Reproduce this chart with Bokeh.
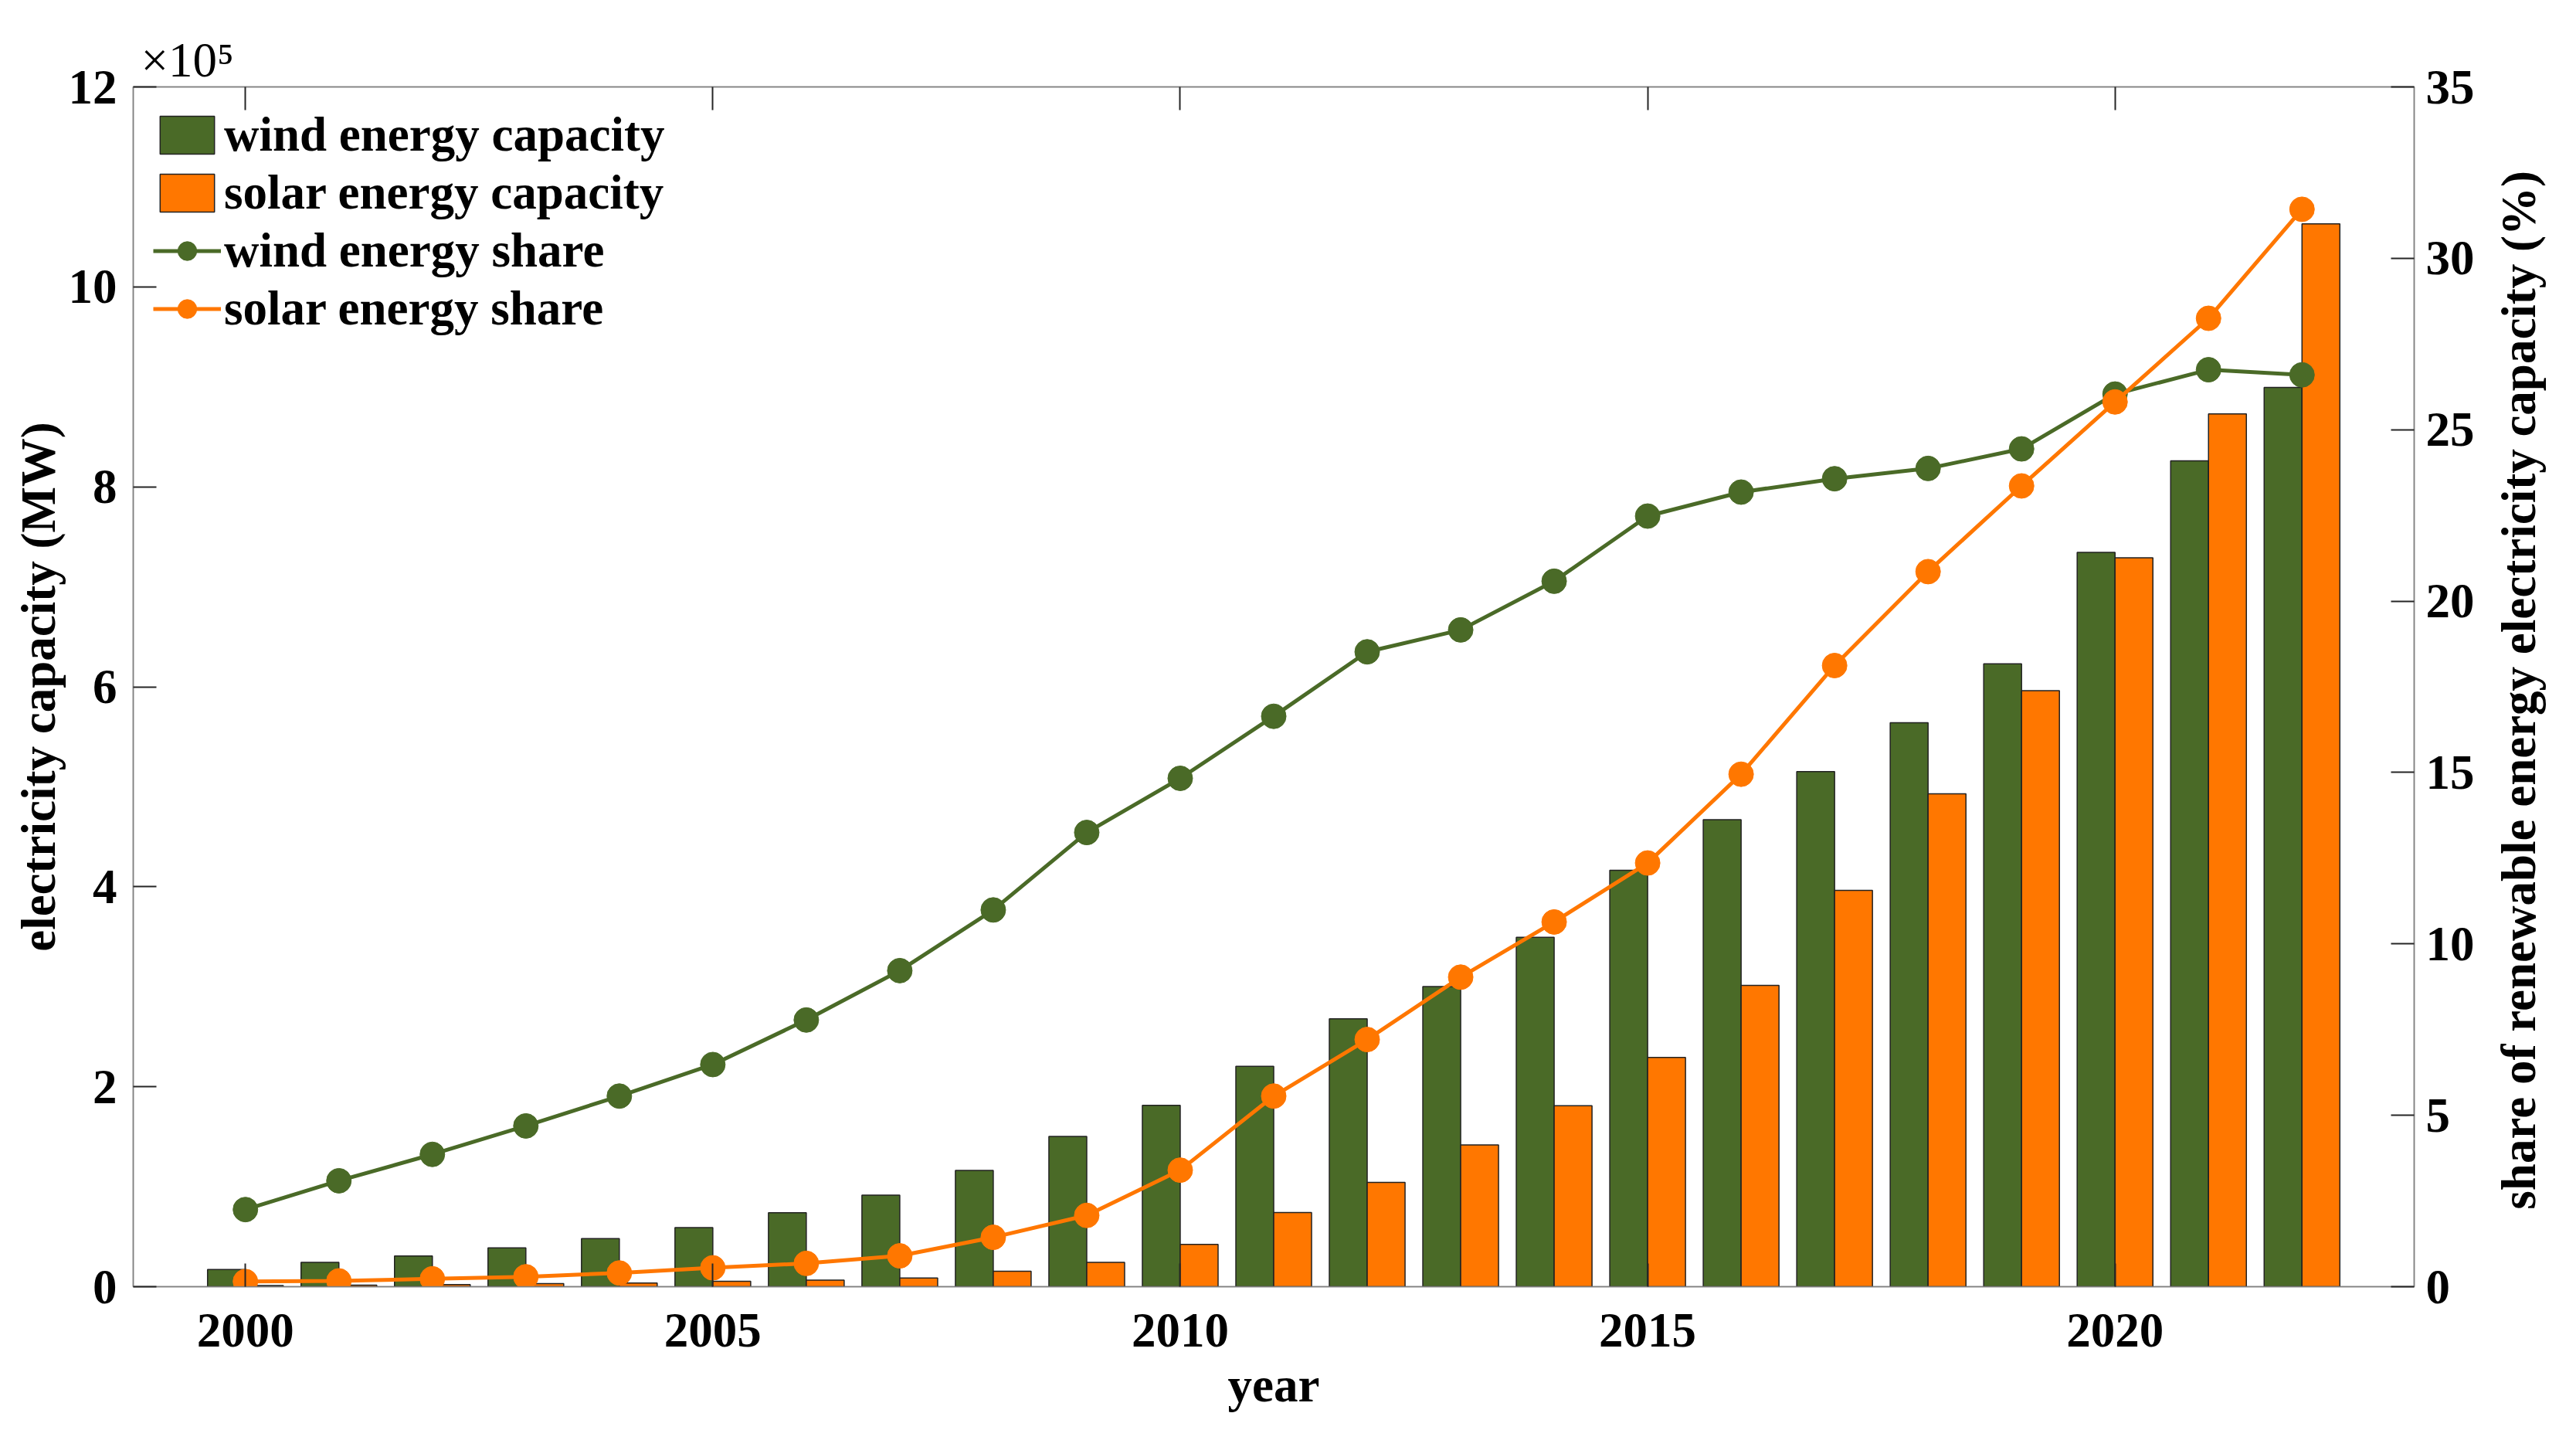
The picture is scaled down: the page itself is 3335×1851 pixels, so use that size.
import math
from bokeh.plotting import figure
from bokeh.models import (ColumnDataSource, Range1d, LinearAxis, FixedTicker,
                          Legend, LegendItem, Title)
from bokeh.transform import dodge
from bokeh.embed import file_html
from bokeh.resources import INLINE

# ---------------- data ----------------
years = list(range(2000, 2023))
wind_capacity_mw = [17100, 24400, 30700, 38800, 48100, 59200, 73900, 91500, 116200,
                    150200, 181400, 220500, 268000, 300100, 349500, 416500, 467000,
                    515200, 564100, 622900, 734500, 826000, 899500]
solar_capacity_mw = [1200, 1600, 2200, 3000, 3700, 5400, 6600, 8700, 15500, 24400,
                     42400, 74100, 104300, 141700, 181000, 229300, 301400, 396400,
                     493000, 596100, 729000, 873000, 1063000]
wind_share_pct = [2.25, 3.09, 3.86, 4.69, 5.56, 6.48, 7.78, 9.22, 10.99, 13.25, 14.83,
                  16.64, 18.52, 19.16, 20.58, 22.48, 23.18, 23.57, 23.87, 24.44, 26.04,
                  26.75, 26.60]
solar_share_pct = [0.15, 0.17, 0.23, 0.29, 0.40, 0.55, 0.68, 0.90, 1.44, 2.08, 3.40,
                   5.56, 7.21, 9.03, 10.64, 12.36, 14.95, 18.12, 20.86, 23.36, 25.81,
                   28.25, 31.43]

series_names = ["wind energy capacity", "solar energy capacity",
                "wind energy share", "solar energy share"]
x_ticks = [2000, 2005, 2010, 2015, 2020]
left_ticks = [0, 200000, 400000, 600000, 800000, 1000000, 1200000]
left_tick_labels = ["0", "2", "4", "6", "8", "10", "12"]
right_ticks = [0, 5, 10, 15, 20, 25, 30, 35]
x_label = "year"
left_label = "electricity capacity (MW)"
right_label = "share of  renewable energy electricity capacity (%)"
multiplier_text = "\u00d710\u2075"

GREEN = "#4A6A27"
ORANGE = "#FF7700"
AXIS_GREY = "#808080"
FONT = "Liberation Serif"
FS = "63px"

src = ColumnDataSource(dict(year=years, wind=wind_capacity_mw, solar=solar_capacity_mw,
                            wshare=wind_share_pct, sshare=solar_share_pct))

p = figure(width=3335, height=1851, output_backend="svg", toolbar_location=None,
           x_range=Range1d(1998.8, 2023.2), y_range=Range1d(0, 1.2e6),
           min_border_left=172, min_border_right=210, min_border_top=112,
           min_border_bottom=186, background_fill_color="white",
           border_fill_color="white")
p.extra_y_ranges = {"share": Range1d(0, 35)}
p.grid.visible = False
p.outline_line_color = AXIS_GREY
p.outline_line_width = 1.5

bar_w = 0.405
wind_bars = p.vbar(x=dodge("year", -bar_w / 2, range=p.x_range), top="wind", width=bar_w,
                   source=src, fill_color=GREEN, line_color="#222222", line_width=1.5)
solar_bars = p.vbar(x=dodge("year", bar_w / 2, range=p.x_range), top="solar", width=bar_w,
                    source=src, fill_color=ORANGE, line_color="#222222", line_width=1.5)

wl = p.line("year", "wshare", source=src, y_range_name="share", line_color=GREEN, line_width=5)
ws = p.scatter("year", "wshare", source=src, y_range_name="share", marker="circle", size=32,
               fill_color=GREEN, line_color=GREEN)
sl = p.line("year", "sshare", source=src, y_range_name="share", line_color=ORANGE, line_width=5)
ss = p.scatter("year", "sshare", source=src, y_range_name="share", marker="circle", size=32,
               fill_color=ORANGE, line_color=ORANGE)


def style_axis(ax):
    ax.axis_line_color = AXIS_GREY
    ax.axis_line_width = 1.5
    ax.major_tick_in = 30
    ax.major_tick_out = 0
    ax.major_tick_line_color = "#262626"
    ax.major_tick_line_width = 2
    ax.minor_tick_line_color = None
    ax.major_label_text_font = FONT
    ax.major_label_text_font_style = "bold"
    ax.major_label_text_font_size = FS
    ax.major_label_text_color = "black"
    ax.axis_label_text_font = FONT
    ax.axis_label_text_font_style = "bold"
    ax.axis_label_text_font_size = FS
    ax.axis_label_text_color = "black"


# bottom x axis
xa = p.xaxis[0]
style_axis(xa)
xa.ticker = FixedTicker(ticks=x_ticks)
xa.axis_label = x_label
xa.major_label_standoff = 35
xa.axis_label_standoff = 12

# left y axis
ya = p.yaxis[0]
style_axis(ya)
ya.ticker = FixedTicker(ticks=left_ticks)
ya.major_label_overrides = {t: l for t, l in zip(left_ticks, left_tick_labels)}
ya.axis_label = left_label
ya.major_label_standoff = 21
ya.axis_label_standoff = 1

# top axis (ticks only)
top_axis = LinearAxis(ticker=FixedTicker(ticks=x_ticks))
style_axis(top_axis)
top_axis.major_label_text_font_size = "0px"
top_axis.major_label_standoff = 0
top_axis.major_label_overrides = {t: "" for t in x_ticks}
p.add_layout(top_axis, "above")

# right axis (ticks + numbers)
ra = LinearAxis(y_range_name="share", ticker=FixedTicker(ticks=right_ticks))
style_axis(ra)
ra.major_label_standoff = 15
p.add_layout(ra, "right")

# right axis title, reading bottom to top (drawn as the single label of a bare axis,
# anchored where the text starts)
title_start = 2.25
rt = LinearAxis(y_range_name="share", ticker=FixedTicker(ticks=[title_start]))
style_axis(rt)
rt.axis_line_color = None
rt.major_tick_line_color = None
rt.major_tick_in = 0
rt.major_label_overrides = {title_start: right_label}
rt.major_label_orientation = math.pi / 2
rt.major_label_standoff = 55
p.add_layout(rt, "right")

# x10^5 multiplier above the left axis
p.add_layout(Title(text=multiplier_text, align="left", offset=10, standoff=0,
                   text_font=FONT, text_font_style="normal", text_font_size=FS,
                   text_color="black"), "above")

legend = Legend(items=[
    LegendItem(label=series_names[0], renderers=[wind_bars]),
    LegendItem(label=series_names[1], renderers=[solar_bars]),
    LegendItem(label=series_names[2], renderers=[wl, ws]),
    LegendItem(label=series_names[3], renderers=[sl, ss]),
], location="top_left")
legend.label_text_font = FONT
legend.label_text_font_style = "bold"
legend.label_text_font_size = FS
legend.label_text_color = "black"
legend.glyph_width = 88
legend.glyph_height = 61
legend.label_standoff = 4
legend.spacing = 2
legend.padding = 18
legend.margin = 8
legend.background_fill_alpha = 0
legend.border_line_alpha = 0
p.add_layout(legend)

open("out.html", "w").write(file_html(p, INLINE))
